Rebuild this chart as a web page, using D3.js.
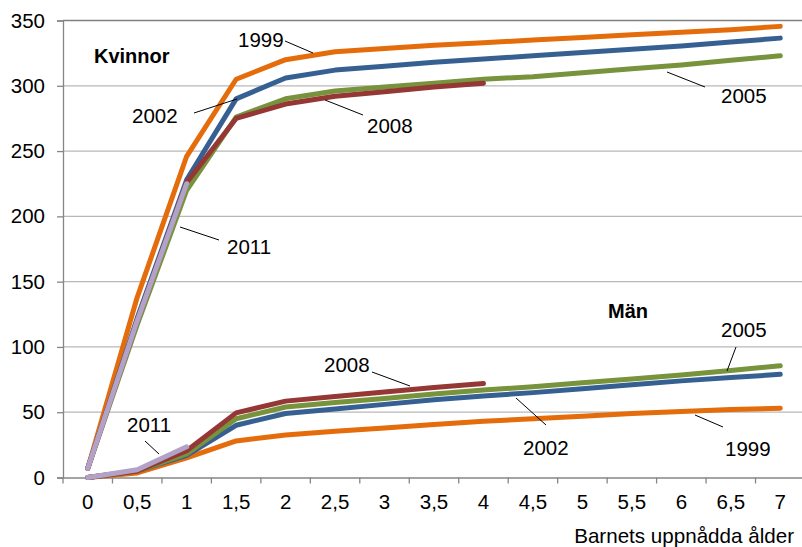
<!DOCTYPE html>
<html>
<head>
<meta charset="utf-8">
<script src="https://cdn.jsdelivr.net/npm/d3@7"></script>
<style>
  body { margin: 0; background: #fff; }
  text { font-family: "Liberation Sans", Arial, sans-serif; }
</style>
</head>
<body>
<svg width="802" height="547"></svg>
<script>
// categories (child's age, years)
var ages = ["0", "0,5", "1", "1,5", "2", "2,5", "3", "3,5", "4", "4,5", "5", "5,5", "6", "6,5", "7"];
var yTicks = [0, 50, 100, 150, 200, 250, 300, 350];
var years = ["1999", "2002", "2005", "2008", "2011"];

// Kvinnor
var women1999 = [7, 138, 246, 305, 320, 326, 328.5, 331, 333, 335, 337, 339, 341, 343, 345.5];
var women2002 = [7, 122, 228, 290, 306, 312, 315, 318, 320.5, 323, 325.5, 328, 330.5, 333.5, 336.5];
var women2005 = [7, 117, 220, 276, 290, 296, 299, 302, 305, 307, 310, 313, 316, 319.5, 323];
var women2008 = [7, 120, 226, 275, 286, 292, 295.5, 299, 302, null, null, null, null, null, null];
var women2011 = [7, 120, 225, null, null, null, null, null, null, null, null, null, null, null, null];

// Män
var men1999 = [0, 3.5, 15, 28, 32.5, 35.5, 38, 40.5, 43, 45, 47, 49, 50.5, 52, 53];
var men2002 = [0, 5, 17, 40, 49, 52.5, 56, 59.5, 62.5, 65, 68, 71, 74, 76.5, 79];
var men2005 = [0, 5, 18, 45, 54, 57.5, 60.5, 64, 67, 69.5, 72.5, 75.5, 78.5, 82, 85.5];
var men2008 = [0, 5, 20.5, 49.5, 58.5, 62, 65.5, 69, 72, null, null, null, null, null, null];
var men2011 = [0, 6, 23.5, null, null, null, null, null, null, null, null, null, null, null, null];

var colors = {"1999": "#e46c0a", "2002": "#376092", "2005": "#77933c", "2008": "#953735", "2011": "#b3a2c7"};

var svg = d3.select("svg"),
    plotLeft = 63,
    plotTop = 20.5,
    plotBottom = 477.5,
    plotRight = 805;

var x = d3.scaleBand().domain(ages).range([plotLeft, plotRight]).padding(0),
    y = d3.scaleLinear().domain([0, 350]).range([plotBottom, plotTop]);

// grid
svg.append("g")
    .selectAll("line")
    .data(yTicks.slice(1, -1))
    .join("line")
    .attr("x1", plotLeft).attr("x2", 802)
    .attr("y1", function(d) { return y(d); })
    .attr("y2", function(d) { return y(d); })
    .attr("stroke", "#b8b8b8")
    .attr("stroke-width", 1.3);

// top border
svg.append("line")
    .attr("x1", plotLeft).attr("x2", 802)
    .attr("y1", y(350)).attr("y2", y(350))
    .attr("stroke", "#808080")
    .attr("stroke-width", 1.3);

// axes
var yAxis = svg.append("g")
    .attr("transform", "translate(" + plotLeft + ",0)")
    .call(d3.axisLeft(y).tickValues(yTicks).tickSize(6).tickPadding(12));

var xAxis = svg.append("g")
    .attr("transform", "translate(0," + plotBottom + ")")
    .call(d3.axisBottom(x).tickSize(0).tickPadding(17));

// band boundary ticks on the x axis
xAxis.selectAll(".bt")
    .data(ages)
    .join("line")
    .attr("class", "bt")
    .attr("x1", function(d) { return x(d); })
    .attr("x2", function(d) { return x(d); })
    .attr("y1", 0).attr("y2", 6)
    .attr("stroke", "#868686")
    .attr("stroke-width", 1.3);

svg.selectAll(".domain, .tick line")
    .attr("stroke", "#868686")
    .attr("stroke-width", 1.3);
svg.selectAll(".tick text")
    .attr("font-size", 20.5)
    .attr("fill", "#000")
    .style("font-family", "'Liberation Sans', Arial, sans-serif");

// lines
var line = d3.line()
    .defined(function(d) { return d != null; })
    .x(function(d, i) { return x(ages[i]) + x.bandwidth() / 2; })
    .y(function(d) { return y(d); });

var series = [
    {year: "1999", values: women1999}, {year: "2002", values: women2002},
    {year: "2005", values: women2005}, {year: "2008", values: women2008},
    {year: "2011", values: women2011},
    {year: "1999", values: men1999}, {year: "2002", values: men2002},
    {year: "2005", values: men2005}, {year: "2008", values: men2008},
    {year: "2011", values: men2011}
];

svg.append("g")
    .selectAll("path")
    .data(series)
    .join("path")
    .attr("d", function(d) { return line(d.values); })
    .attr("fill", "none")
    .attr("stroke", function(d) { return colors[d.year]; })
    .attr("stroke-width", 5)
    .attr("stroke-linejoin", "round")
    .attr("stroke-linecap", "round");

// annotations: [text, x, baseline, leader x1, y1, x2, y2]
var labels = [
    ["1999", 238, 47, 285, 41, 313, 53],
    ["2002", 132, 123, 194, 113, 237, 99],
    ["2008", 367, 133, 325, 100, 363, 115],
    ["2005", 721, 103, 667, 72, 705, 87],
    ["2011", 227, 254, 180, 227, 219, 240],
    ["2005", 721, 337, 736, 347, 727, 371],
    ["2008", 324, 372, 372, 372, 410, 386],
    ["2002", 523, 455, 516, 398, 546, 425],
    ["1999", 725, 456, 695, 415, 723, 427],
    ["2011", 127, 432, 145, 441, 159, 454]
];

var ann = svg.append("g");
ann.selectAll("line")
    .data(labels)
    .join("line")
    .attr("x1", function(d) { return d[3]; })
    .attr("y1", function(d) { return d[4]; })
    .attr("x2", function(d) { return d[5]; })
    .attr("y2", function(d) { return d[6]; })
    .attr("stroke", "#000")
    .attr("stroke-width", 1);
ann.selectAll("text")
    .data(labels)
    .join("text")
    .attr("x", function(d) { return d[1]; })
    .attr("y", function(d) { return d[2]; })
    .attr("font-size", 20.5)
    .text(function(d) { return d[0]; });

svg.append("text")
    .attr("x", 94).attr("y", 63)
    .attr("font-size", 20).attr("font-weight", "bold")
    .text("Kvinnor");

svg.append("text")
    .attr("x", 608).attr("y", 318)
    .attr("font-size", 20).attr("font-weight", "bold")
    .text("Män");

svg.append("text")
    .attr("x", 794).attr("y", 543)
    .attr("text-anchor", "end")
    .attr("font-size", 20.6)
    .text("Barnets uppnådda ålder");
</script>
</body>
</html>
